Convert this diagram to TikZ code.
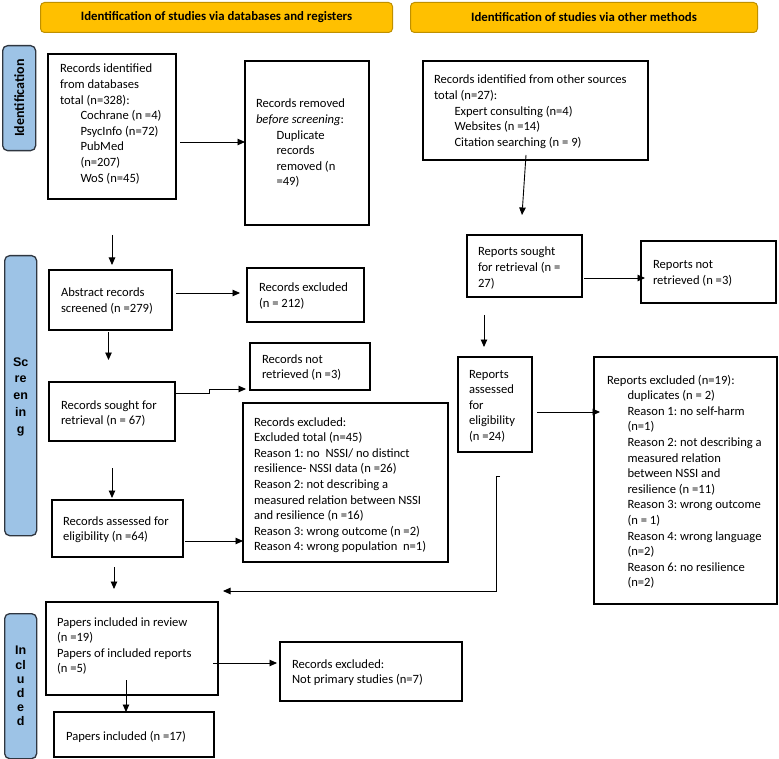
\documentclass[tikz,border=0pt]{standalone}
\usepackage{fontspec}
\setmainfont{Carlito}
\newfontfamily\arialfont{Liberation Sans}
\usetikzlibrary{arrows.meta,calc}
\definecolor{hdr}{HTML}{FFC000}
\definecolor{hdrb}{HTML}{BF9000}
\definecolor{sidefill}{HTML}{9DC3E6}
\definecolor{sideb}{HTML}{2F3640}
\frenchspacing
\newcommand{\tx}[1]{\parbox[t]{8cm}{\raggedright\frenchspacing #1}}
\newcommand{\ind}{\hspace*{20.5pt}}
\tikzset{
  box/.style={draw=black, line width=1.3pt, anchor=north west, inner sep=0pt, outer sep=0pt},
  txt/.style={anchor=base west, inner sep=0pt, outer sep=0pt, font=\fontsize{12.6}{15.6}\selectfont},
  arr/.style={line width=0.9pt, -{Triangle[length=7.5pt,width=6.5pt]}},
  hdrbox/.style={draw=hdrb, fill=hdr, line width=1pt, rounded corners=4pt, anchor=north west, inner sep=0pt,
    font=\bfseries\fontsize{12.8}{14}\selectfont},
  sidebox/.style={draw=sideb, fill=sidefill, line width=1.3pt, rounded corners=5pt, anchor=north west, inner sep=0pt},
}
\begin{document}
\begin{tikzpicture}[x=1pt,y=-1pt]
\useasboundingbox (0,0) rectangle (779,759);
\fill[white] (0,0) rectangle (779,759);

% headers
\node[hdrbox, minimum width=352pt, minimum height=30pt] (h1) at (40,2) {Identification of studies via databases and registers};
\node[hdrbox, minimum width=347pt, minimum height=30pt] (h2) at (410,2) {Identification of studies via other methods};

% side labels
\node[sidebox, minimum width=33pt, minimum height=105pt] (s1) at (2,45) {};
\node[rotate=90, inner sep=0pt, font=\bfseries\fontsize{14}{16}\selectfont] (s1t) at (s1.center) {Identification};
\node[sidebox, minimum width=32pt, minimum height=280pt] (s2) at (4,255) {};
\node[align=center, inner sep=0pt, font=\arialfont\bfseries\fontsize{12.5}{16.7}\selectfont] (s2t) at ($(s2.center)+(0,1)$) {Sc\\re\\en\\in\\g};
\node[sidebox, minimum width=32pt, minimum height=145pt] (s3) at (4,613) {};
\node[align=center, inner sep=0pt, font=\arialfont\bfseries\fontsize{12.5}{14.2}\selectfont] (s3t) at (s3.center) {In\\cl\\u\\d\\e\\d};

% boxes
\node[box, minimum width=128pt, minimum height=145pt] (b1) at (48,54) {};
\node[box, minimum width=124pt, minimum height=164pt] (b2) at (245,61) {};
\node[box, minimum width=225pt, minimum height=99pt] (b3) at (423,61) {};
\node[box, minimum width=123pt, minimum height=60pt] (b4) at (49,270) {};
\node[box, minimum width=117pt, minimum height=54pt] (b5) at (247,268) {};
\node[box, minimum width=120pt, minimum height=47pt] (b6) at (250,343) {};
\node[box, minimum width=126pt, minimum height=59pt] (b7) at (49,382) {};
\node[box, minimum width=205pt, minimum height=159pt] (b8) at (243,403) {};
\node[box, minimum width=131pt, minimum height=57pt] (b9) at (52,500) {};
\node[box, minimum width=172pt, minimum height=93pt] (b10) at (46,602) {};
\node[box, minimum width=182pt, minimum height=59pt] (b11) at (280,642) {};
\node[box, minimum width=160pt, minimum height=45pt] (b12) at (54,712) {};
\node[box, minimum width=115pt, minimum height=62pt] (b13) at (467,235) {};
\node[box, minimum width=135pt, minimum height=62pt] (b14) at (641,241) {};
\node[box, minimum width=74pt, minimum height=95pt] (b15) at (458,357) {};
\node[box, minimum width=183pt, minimum height=247pt] (b16) at (594,357) {};

% texts
\node[txt] (t1) at (60,73) {\tx{Records identified\\from databases\\total (n=328):\\\ind Cochrane (n =4)\\\ind PsycInfo (n=72)\\\ind PubMed\\\ind (n=207)\\\ind WoS (n=45)}};
\node[txt] (t2) at (256,108) {\tx{Records removed\\\textit{before screening}:\\\ind Duplicate\\\ind records\\\ind removed (n\\\ind =49)}};
\node[txt] (t3) at (434,84) {\tx{Records identified from other sources\\total (n=27):\\\ind Expert consulting (n=4)\\\ind Websites (n =14)\\\ind Citation searching (n = 9)}};
\node[txt] (t4) at (61,297) {\tx{Abstract records\\screened (n =279)}};
\node[txt] (t5) at (259,292) {\tx{Records excluded\\(n = 212)}};
\node[txt] (t6) at (262,363) {\tx{Records not\\retrieved (n =3)}};
\node[txt] (t7) at (61,409) {\tx{Records sought for\\retrieval (n = 67)}};
\node[txt] (t8) at (254,426) {\tx{Records excluded:\\Excluded total (n=45)\\Reason 1: no\ \ NSSI/ no distinct\\resilience- NSSI data (n =26)\\Reason 2: not describing a\\measured relation between NSSI\\and resilience (n =16)\\Reason 3: wrong outcome (n =2)\\Reason 4: wrong population\ \ n=1)}};
\node[txt] (t9) at (63,525) {\tx{Records assessed for\\eligibility (n =64)}};
\node[txt] (t10) at (57,626) {\tx{Papers included in review\\(n =19)\\Papers of included reports\\(n =5)}};
\node[txt] (t11) at (292,668) {\tx{Records excluded:\\Not primary studies (n=7)}};
\node[txt] (t12) at (66,740) {\tx{Papers included (n =17)}};
\node[txt] (t13) at (478,256) {\tx{Reports sought\\for retrieval (n =\\27)}};
\node[txt] (t14) at (653,269) {\tx{Reports not\\retrieved (n =3)}};
\node[txt] (t15) at (469,378) {\tx{Reports\\assessed\\for\\eligibility\\(n =24)}};
\node[txt] (t16) at (607,384) {\tx{Reports excluded (n=19):\\\ind duplicates (n = 2)\\\ind Reason 1: no self-harm\\\ind (n=1)\\\ind Reason 2: not describing a\\\ind measured relation\\\ind between NSSI and\\\ind resilience (n =11)\\\ind Reason 3: wrong outcome\\\ind (n = 1)\\\ind Reason 4: wrong language\\\ind (n=2)\\\ind Reason 6: no resilience\\\ind (n=2)}};

% connectors
\draw[arr] ($(b1.east |- b2.west)+(4,-1)$) coordinate (s12) -- (s12 -| b2.west);
\draw[arr] ($(b1.south)+(0,36)$) -- ($(b1.south |- b4.north)+(0,-5)$);
\draw[arr] ($(b3.south)+(-9.5,-5)$) -- ($(b13.north)+(-2.5,-20)$);
\draw[arr] ($(b4.east |- b5.west)+(4,-2)$) coordinate (s45) -- ($(s45 -| b5.west)+(-7,0)$);
\draw[arr] ($(b4.south)+(-2,2)$) -- ($(b4.south)+(-2,30)$);
\coordinate (c6) at ($(b6.south west)+(-4,-1)$);
\draw[arr] ($(b7.north east)+(0,11)$) -- ++(34,0) |- (c6);
\draw[arr] ($(b7.south)+(0,27)$) -- ($(b7.south |- b9.north)+(0,-2)$);
\draw[arr] ($(b9.east)+(2,12.5)$) coordinate (s98) -- (s98 -| b8.west);
\draw[arr] ($(b9.south)+(-3.5,10)$) -- ++(0,22);
\coordinate (fbe) at ($(b10.north east)+(5,-11)$);
\draw[arr] ($(b15.south)+(5,24)$) -- ++(-4,0) |- (fbe);
\draw[arr] ($(b10.east)+(-5,14.5)$) coordinate (s1011) -- ($(s1011 -| b11.west)+(-3,0)$);
\draw[arr] ($(b10.south)+(-6,-15)$) -- ($(b10.south |- b12.north)+(-6,0)$);
\draw[arr] ($(b13.east)+(2,12)$) coordinate (s1314) -- ($(s1314 -| b14.west)+(4,0)$);
\draw[arr] ($(b15.north)+(-11,-42)$) -- ($(b15.north)+(-11,-10)$);
\draw[arr] ($(b15.east)+(5,7.5)$) coordinate (s1516) -- ($(s1516 -| b16.west)+(6,0)$);
\end{tikzpicture}
\end{document}
